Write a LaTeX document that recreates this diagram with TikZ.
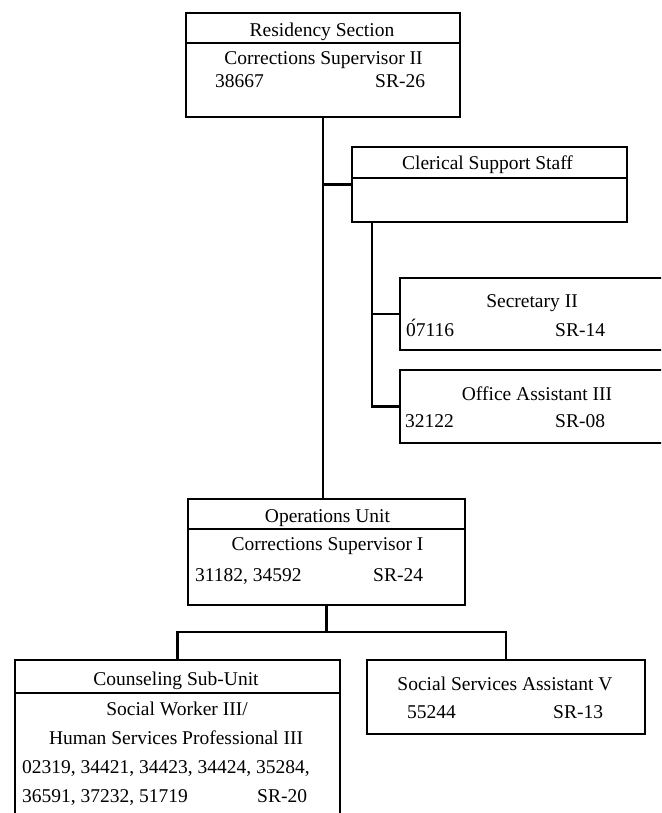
\documentclass[tikz,border=0pt]{standalone}
\usepackage{fontspec}
\setmainfont{Liberation Serif}
\begin{document}
\begin{tikzpicture}[x=1pt,y=-1pt,
  box/.style={draw,line width=2.2pt,inner sep=0pt,outer sep=0pt,anchor=north west},
  conn/.style={line width=2.2pt},
  div/.style={line width=2pt},
  lbl/.style={font=\fontsize{19.5}{22}\selectfont,inner sep=0pt,anchor=base},
  lbll/.style={lbl,anchor=base west}]
\useasboundingbox (0,0) rectangle (661,813);
\clip (0,0) rectangle (661,813);
% boxes
\node[box,minimum width=274pt,minimum height=104pt] (top) at (186,13) {};
\node[box,minimum width=275pt,minimum height=75pt] (cler) at (352,147) {};
\node[box,minimum width=290pt,minimum height=72pt] (sec) at (400,278) {};
\node[box,minimum width=290pt,minimum height=73pt] (oa) at (400,370) {};
\node[box,minimum width=277pt,minimum height=106pt] (ops) at (188,499) {};
\node[box,minimum width=325pt,minimum height=160pt] (couns) at (15,660) {};
\node[box,minimum width=278pt,minimum height=74pt] (ssa) at (367,660) {};
% dividers
\draw[div] (top.west |- 0,43) -- (top.east |- 0,43);
\draw[div] (cler.west |- 0,178) -- (cler.east |- 0,178);
\draw[div] (ops.west |- 0,529) -- (ops.east |- 0,529);
\draw[div] (couns.west |- 0,693) -- (couns.east |- 0,693);
% connectors
\draw[conn] (top.south) -- (top.south |- ops.north);
\draw[conn] (cler.west) -- (cler.west -| top.south);
\coordinate (cl) at ([xshift=20pt]cler.south west);
\draw[conn] (cl) |- (oa.west);
\draw[conn] (sec.west) -- (sec.west -| cl);
\coordinate (bus) at ([yshift=-27pt]ops.south);
\draw[conn] (ops.south) -- (bus);
\draw[conn] (couns.north) |- (bus) -| (ssa.north);
% texts
\node[lbl] (t1) at (322,37) {Residency Section};
\node[lbl] (t2) at (323.5,65) {Corrections Supervisor II};
\node[lbll] (t3) at (215,88) {38667};
\node[lbll] (t4) at (375,88) {SR-26};
\node[lbl] (t5) at (487.5,170) {Clerical Support Staff};
\node[lbl] (t6) at (532,307) {Secretary II};
\node[lbll] (t7) at (406,336) {\'{0}7116};
\node[lbll] (t8) at (555,336) {SR-14};
\node[lbl] (t9) at (537,400) {Office Assistant III};
\node[lbll] (t10) at (405,427) {32122};
\node[lbll] (t11) at (555,427) {SR-08};
\node[lbl] (t12) at (327.5,522) {Operations Unit};
\node[lbl] (t13) at (327.5,550) {Corrections Supervisor I};
\node[lbll] (t14) at (195,581) {31182, 34592};
\node[lbll] (t15) at (373,581) {SR-24};
\node[lbl] (t16) at (176,685) {Counseling Sub-Unit};
\node[lbl] (t17) at (177,715) {Social Worker III/};
\node[lbl] (t18) at (176,744) {Human Services Professional III};
\node[lbll] (t19) at (22,773) {02319, 34421, 34423, 34424, 35284,};
\node[lbll] (t20) at (22,802) {36591, 37232, 51719};
\node[lbll] (t21) at (257,802) {SR-20};
\node[lbl] (t22) at (505,690) {Social Services Assistant V};
\node[lbll] (t23) at (407,718) {55244};
\node[lbll] (t24) at (553,718) {SR-13};
\end{tikzpicture}
\end{document}
